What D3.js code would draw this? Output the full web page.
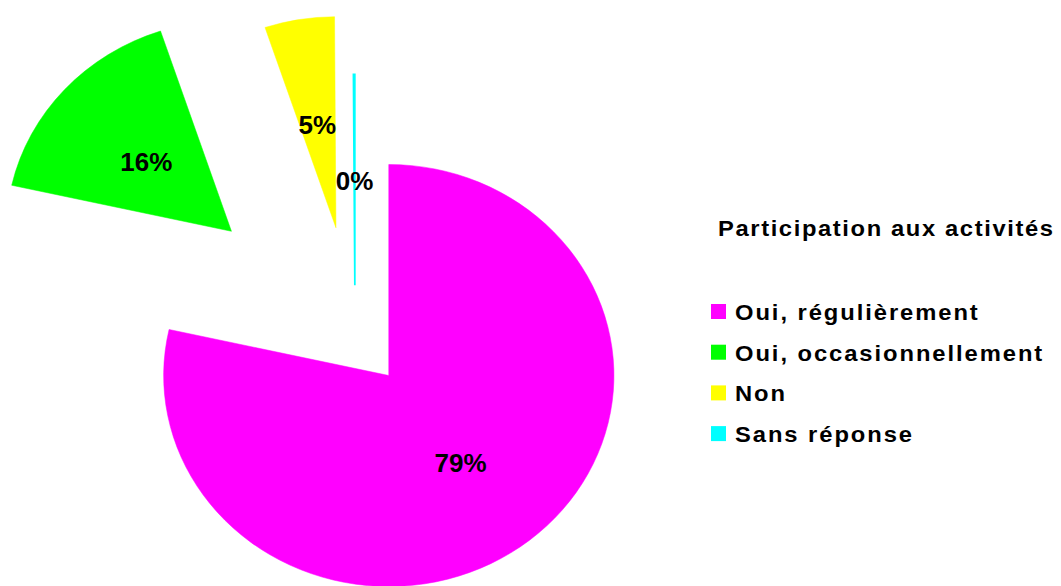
<!DOCTYPE html>
<html>
<head>
<meta charset="utf-8">
<script src="https://cdn.jsdelivr.net/npm/d3@7"></script>
<style>
  body { margin: 0; background: #fff; }
  text { font-family: Arial, "Liberation Sans", sans-serif; font-weight: bold; }
</style>
</head>
<body>
<div id="chart"></div>
<script>
const categories = ['Oui, régulièrement', 'Oui, occasionnellement', 'Non', 'Sans réponse']
const values = [78.5, 16.4, 5.0, 0.1]
const colors = ['#ff00ff', '#00ff00', '#ffff00', '#00ffff']
const legendTitle = 'Participation aux activités'

// exploded distance of each slice, as a fraction of the radius
const explode = [0.24, 0.74, 0.52, 0.24]

const width = 1061
const height = 586
const radius = 211
const stretch = 1.067
const cx = 355
const cy = 336

const svg = d3.select('#chart')
  .append('svg')
  .attr('width', width)
  .attr('height', height)

const total = d3.sum(values)
const pie = d3.pie().sort(null).value(d => d)
const arc = d3.arc().innerRadius(0).outerRadius(radius)
const labelArc = d3.arc().innerRadius(radius * 0.51).outerRadius(radius * 0.51)
const arcs = pie(values)

const offset = (d, i) => {
  const mid = (d.startAngle + d.endAngle) / 2
  return [Math.sin(mid) * explode[i] * radius, -Math.cos(mid) * explode[i] * radius]
}

const pieG = svg.append('g')
  .attr('transform', `translate(${cx}, ${cy}) scale(${stretch}, 1)`)

pieG.selectAll('path')
  .data(arcs)
  .enter()
  .append('path')
  .attr('transform', (d, i) => `translate(${offset(d, i)})`)
  .attr('d', arc)
  .attr('fill', (d, i) => colors[i])
  .attr('stroke', (d, i) => colors[i])
  .style('stroke-width', (d, i) => i === 3 ? 1.6 : 0.5)

svg.selectAll('.slice-label')
  .data(arcs)
  .enter()
  .append('text')
  .attr('class', 'slice-label')
  .attr('x', (d, i) => cx + (offset(d, i)[0] + labelArc.centroid(d)[0]) * stretch)
  .attr('y', (d, i) => cy + offset(d, i)[1] + labelArc.centroid(d)[1] + 3)
  .attr('text-anchor', 'middle')
  .attr('dominant-baseline', 'central')
  .style('font-size', '26px')
  .attr('fill', '#000')
  .text(d => Math.round(d.value / total * 100) + '%')

// legend (text is slightly wider than tall, like the original)
const legend = svg.append('g')

legend.append('text')
  .attr('transform', 'translate(718, 236) scale(1.08, 1)')
  .style('font-size', '22px')
  .style('letter-spacing', '1.5px')
  .text(legendTitle)

const items = legend.selectAll('.item')
  .data(categories)
  .enter()
  .append('g')
  .attr('class', 'item')
  .attr('transform', (d, i) => `translate(711, ${320 + i * 40.7})`)

items.append('rect')
  .attr('x', 0)
  .attr('y', -16)
  .attr('width', 15)
  .attr('height', 15)
  .attr('fill', (d, i) => colors[i])

items.append('text')
  .attr('transform', 'translate(24, 0) scale(1.08, 1)')
  .style('font-size', '22px')
  .style('letter-spacing', '1.8px')
  .text(d => d)
</script>
</body>
</html>
